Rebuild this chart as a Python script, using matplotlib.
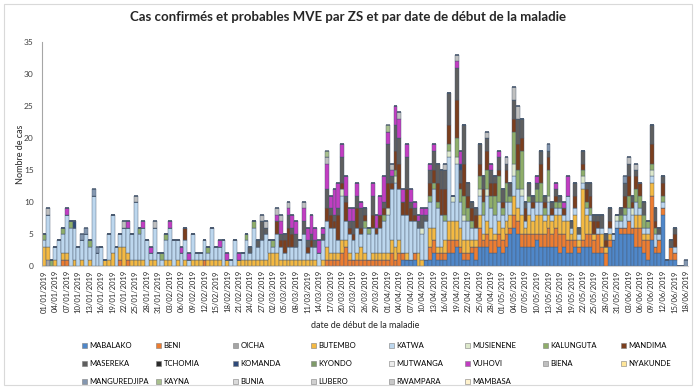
import numpy as np
import pandas as pd
import matplotlib
matplotlib.use('Agg')
import matplotlib.pyplot as plt
from matplotlib.patches import Patch, Rectangle

plt.rcParams['font.family'] = ['Lato', 'DejaVu Sans']

days = pd.date_range('2019-01-01', '2019-06-18', freq='D')
n = len(days)

zones = ['MABALAKO', 'BENI', 'OICHA', 'BUTEMBO', 'KATWA', 'MUSIENENE', 'KALUNGUTA', 'MANDIMA',
         'MASEREKA', 'TCHOMIA', 'KOMANDA', 'KYONDO', 'MUTWANGA', 'VUHOVI', 'BIENA', 'NYAKUNDE',
         'MANGUREDJIPA', 'KAYNA', 'BUNIA', 'LUBERO', 'RWAMPARA', 'MAMBASA']
colors = ['#4f87c9', '#ed7d31', '#a5a5a5', '#f4b942', '#bdd7ee', '#dde8cb', '#8fae6a', '#7b3f1e',
          '#5f5f5f', '#2b2b2b', '#2f4a7a', '#7f9b69', '#ededed', '#c23dc2', '#bfbfbf', '#ffe699',
          '#8497b0', '#a9c08e', '#dadada', '#d0d0d0', '#c8c8c8', '#fff2cc']

# cas par jour (01/01 -> 18/06)
mabalako = [0] * 94 + [
    1, 1, 1, 1, 0, 0,
    1, 1, 2, 1, 1, 1, 2, 2, 3, 2,
    1, 1, 2, 1, 3, 3, 3, 2, 2, 3,
    2, 3, 5, 6, 5, 3, 3, 3, 3, 4,
    3, 3, 3, 3, 3, 2, 3, 2, 2, 3,
    2, 3, 3, 3, 2, 2, 2, 0, 3, 4,
    6, 5, 5, 5, 5, 3, 3, 2, 1, 4,
    2, 2, 8, 1, 1, 1, 0, 0, 0]
beni = [
    0, 0, 0, 0, 0, 1, 1, 0, 0, 0,
    0, 0, 0, 0, 0, 0, 0, 0, 0, 0,
    1, 0, 1, 0, 0, 0, 0, 0, 0, 0,
    0, 0, 0, 0, 0, 0, 0, 0, 0, 0,
    0, 0, 1, 0, 0, 0, 0, 0, 0, 0,
    0, 0, 0, 0, 0, 0, 0, 0, 0, 0,
    0, 0, 0, 0, 0, 0, 0, 0, 0, 0,
    0, 0, 0, 0, 1, 1, 1, 1, 2, 3,
    1, 1, 1, 1, 1, 1, 1, 1, 1, 1,
    1, 2, 1, 2, 1, 0, 0, 1, 0, 0,
    0, 2, 2, 1, 1, 1, 2, 2, 1, 1,
    1, 1, 1, 2, 3, 1, 2, 2, 2, 2,
    2, 2, 1, 2, 2, 2, 2, 2, 2, 1,
    2, 2, 3, 2, 3, 3, 2, 2, 2, 1,
    1, 1, 2, 2, 2, 3, 1, 2, 1, 0,
    0, 1, 1, 2, 1, 3, 3, 2, 3, 7,
    1, 2, 1, 0, 2, 1, 0, 0, 0]
butembo = [
    3, 2, 0, 1, 0, 1, 1, 0, 1, 0,
    1, 0, 1, 0, 0, 0, 1, 1, 2, 0,
    2, 3, 1, 1, 1, 1, 1, 0, 1, 1,
    0, 0, 1, 1, 0, 1, 0, 1, 0, 1,
    1, 1, 0, 1, 1, 1, 1, 0, 1, 0,
    0, 1, 1, 1, 1, 1, 1, 1, 1, 2,
    2, 2, 1, 1, 1, 1, 1, 1, 1, 1,
    1, 1, 0, 1, 2, 1, 1, 1, 2, 1,
    1, 0, 1, 2, 1, 0, 1, 1, 1, 1,
    1, 2, 2, 2, 0, 1, 0, 0, 2, 1,
    0, 3, 2, 1, 1, 2, 3, 3, 3, 3,
    2, 2, 1, 1, 2, 1, 2, 2, 1, 2,
    2, 2, 2, 3, 2, 3, 1, 3, 2, 3,
    3, 2, 2, 2, 2, 3, 2, 3, 1, 4,
    1, 8, 3, 2, 1, 0, 2, 1, 1, 0,
    0, 0, 0, 0, 0, 2, 2, 1, 1, 2,
    0, 0, 0, 0, 0, 0, 0, 0, 0]
katwa = [
    1, 5, 0, 2, 4, 3, 6, 6, 5, 3,
    3, 5, 2, 11, 2, 3, 0, 4, 6, 3,
    2, 3, 4, 4, 9, 4, 5, 4, 1, 5,
    2, 1, 3, 5, 4, 3, 2, 3, 1, 4,
    1, 1, 3, 1, 5, 2, 2, 4, 0, 1,
    4, 0, 1, 3, 1, 5, 2, 3, 4, 2,
    1, 3, 2, 1, 2, 2, 2, 3, 4, 1,
    2, 2, 2, 3, 4, 4, 4, 2, 7, 3,
    3, 3, 4, 2, 4, 4, 4, 3, 4, 5,
    6, 8, 10, 8, 6, 6, 6, 5, 4, 4,
    6, 4, 6, 6, 5, 3, 10, 3, 9, 4,
    3, 3, 2, 2, 3, 3, 4, 3, 3, 3,
    2, 3, 2, 3, 3, 3, 1, 2, 2, 2,
    2, 1, 2, 1, 1, 1, 1, 4, 1, 1,
    1, 1, 1, 1, 0, 1, 1, 0, 1, 1,
    1, 1, 2, 2, 2, 2, 1, 1, 1, 1,
    2, 1, 1, 0, 0, 1, 0, 0, 0]

# zones plus rares : {indice du jour: cas}
oicha = {1: 1}
musienene = {78: 1, 90: 1, 92: 1, 99: 1, 106: 1, 107: 1, 108: 1, 110: 1, 114: 1, 116: 1,
             123: 2, 125: 1, 132: 1, 141: 1, 150: 1, 154: 1, 159: 1}
kalunguta = {0: 1, 2: 1, 5: 1, 7: 1, 12: 1, 25: 1, 31: 1, 32: 1, 43: 1, 53: 1, 55: 1, 60: 1,
             84: 1, 85: 1, 89: 1, 92: 1, 101: 1, 102: 1, 103: 1, 105: 1, 106: 1, 108: 3,
             109: 2, 110: 3, 111: 2, 112: 1, 114: 2, 115: 2, 116: 3, 117: 2, 118: 3, 119: 4,
             120: 1, 121: 3, 122: 1, 123: 5, 124: 3, 125: 6, 127: 1, 129: 2, 130: 3, 131: 1,
             132: 4, 134: 1, 135: 1, 141: 1, 142: 1, 143: 1, 151: 1, 152: 1, 153: 2, 155: 2,
             156: 2, 157: 2, 158: 1, 159: 1, 160: 1, 162: 1}
mandima = {37: 2, 61: 2, 62: 1, 63: 2, 64: 3, 65: 2, 69: 1, 70: 1, 74: 2, 75: 2, 76: 1, 77: 4,
           78: 1, 79: 3, 80: 1, 81: 1, 82: 3, 83: 1, 84: 1, 86: 2, 87: 1, 88: 2, 89: 1, 90: 4,
           91: 1, 92: 3, 93: 4, 94: 2, 95: 4, 96: 2, 97: 1, 101: 2, 102: 2, 103: 3, 104: 4,
           105: 4, 106: 3, 108: 6, 109: 1, 110: 5, 111: 2, 112: 2, 113: 2, 114: 2, 115: 2,
           116: 3, 117: 2, 118: 2, 119: 1, 120: 1, 121: 2, 123: 2, 124: 4, 125: 2, 126: 2,
           128: 1, 130: 3, 131: 1, 132: 2, 133: 1, 134: 1, 136: 1, 139: 2, 141: 1, 142: 2,
           143: 2, 144: 2, 145: 1, 147: 1, 148: 1, 152: 2, 153: 3, 154: 1, 155: 2, 156: 2,
           159: 3, 160: 1, 162: 2, 165: 2}
masereka = {54: 1, 56: 1, 57: 3, 58: 1, 62: 1, 63: 1, 64: 2, 65: 1, 66: 2, 68: 2, 69: 1, 70: 1,
            71: 1, 73: 1, 74: 3, 75: 1, 76: 1, 77: 1, 78: 4, 79: 1, 80: 1, 81: 2, 82: 2, 83: 3,
            84: 1, 86: 3, 89: 1, 90: 6, 91: 1, 92: 4, 93: 4, 95: 5, 96: 1, 97: 1, 98: 1, 99: 2,
            100: 1, 101: 2, 102: 3, 103: 3, 104: 3, 105: 3, 106: 5, 108: 5, 109: 2, 110: 6,
            111: 2, 112: 1, 113: 1, 114: 3, 115: 2, 116: 2, 117: 2, 118: 1, 119: 2, 120: 2,
            121: 1, 122: 2, 123: 3, 124: 4, 125: 3, 126: 1, 127: 2, 128: 1, 129: 1, 130: 2,
            131: 1, 132: 1, 133: 1, 134: 1, 135: 1, 138: 1, 139: 2, 140: 1, 141: 2, 142: 1,
            143: 2, 144: 1, 145: 1, 146: 2, 147: 1, 148: 2, 151: 1, 152: 2, 153: 2, 154: 1,
            155: 1, 157: 2, 159: 3, 160: 2, 161: 1, 162: 1, 164: 1, 165: 1}
tchomia = {}
komanda = {8: 1, 109: 1}
kyondo = {}
mutwanga = {}
vuhovi = {6: 1, 22: 1, 26: 1, 28: 1, 33: 1, 36: 1, 38: 1, 46: 1, 48: 1, 51: 1, 61: 1, 62: 2,
          64: 1, 65: 2, 66: 2, 68: 2, 69: 2, 70: 3, 71: 2, 72: 2, 73: 1, 74: 4, 75: 2, 76: 4,
          77: 4, 78: 2, 79: 3, 80: 2, 81: 2, 82: 2, 83: 1, 86: 2, 87: 2, 88: 3, 89: 4, 90: 2,
          91: 1, 92: 3, 93: 3, 94: 2, 95: 2, 96: 2, 97: 1, 98: 1, 99: 1, 100: 1, 101: 1,
          102: 1, 108: 1, 109: 2, 117: 1, 119: 1, 129: 1, 134: 1, 136: 1, 137: 3}
biena = {1: 1, 21: 1, 24: 1, 29: 1, 57: 1, 58: 1, 61: 1, 62: 1, 64: 1, 68: 1, 74: 1, 91: 1,
         93: 1, 105: 1, 108: 1, 116: 1, 121: 1, 123: 2, 124: 2, 153: 1, 155: 1}
nyakunde = {}
manguredjipa = {10: 1, 11: 1, 13: 1, 14: 1, 132: 1, 152: 1, 168: 1}
kayna = {74: 1, 90: 1}
bunia = {}
lubero = {}
rwampara = {}
mambasa = {}


def serie(v):
    if isinstance(v, dict):
        out = np.zeros(n)
        for k, c in v.items():
            out[k] = c
        return out
    return np.array(v, dtype=float)


series = [mabalako, beni, oicha, butembo, katwa, musienene, kalunguta, mandima,
          masereka, tchomia, komanda, kyondo, mutwanga, vuhovi, biena, nyakunde,
          manguredjipa, kayna, bunia, lubero, rwampara, mambasa]

fig = plt.figure(figsize=(6.96, 3.89), dpi=100)
fig.patches.append(Rectangle((4 / 696, 4 / 389), 688 / 696, 381 / 389, transform=fig.transFigure,
                             fill=False, edgecolor='#d9d9d9', linewidth=0.8))
ax = fig.add_axes([42 / 696, 1 - 266 / 389, 646 / 696, 224 / 389])

x = np.arange(n)
bottom = np.zeros(n)
for name, v, c in zip(zones, series, colors):
    vals = serie(v)
    ax.bar(x, vals, width=1.0, bottom=bottom, color=c, edgecolor='#4a5a70', linewidth=0.3)
    bottom += vals

ax.set_xlim(-0.5, n - 0.5)
ax.set_ylim(0, 35)
ax.set_yticks(range(0, 36, 5))
ax.tick_params(axis='y', labelsize=6, length=0, pad=6, colors='#404040')
ax.set_xticks(x[::3])
ax.set_xticklabels([d.strftime('%d/%m/%Y') for d in days[::3]], rotation=90, fontsize=5.5)
ax.tick_params(axis='x', length=0, pad=3, colors='#262626')
for s in ['top', 'right']:
    ax.spines[s].set_visible(False)
ax.spines['left'].set_color('#a6a6a6')
ax.spines['bottom'].set_color('#d0d0d0')
ax.set_ylabel('Nombre de cas', fontsize=6.5, color='#262626')
ax.yaxis.set_label_coords(-17 / 646, 0.5)

fig.text(0.5, 1 - 17 / 389, 'Cas confirmés et probables MVE par ZS et par date de début de la maladie',
         ha='center', va='center', fontsize=9.5, fontweight='bold', color='#262626')
fig.text(365 / 696, 1 - 325 / 389, 'date de début de la maladie', ha='center', va='center',
         fontsize=6.5, color='#262626')

col_x = [82, 156, 233, 311, 389, 465, 543, 621]
for j, cx in enumerate(col_x):
    idx = [i for i in (j, j + 8, j + 16) if i < len(zones)]
    handles = [Patch(facecolor=colors[i], edgecolor='#7f7f7f', linewidth=0.4) for i in idx]
    fig.legend(handles, [zones[i] for i in idx], loc='upper left',
               bbox_to_anchor=(cx / 696, 1 - 342 / 389), frameon=False, fontsize=5.5,
               handlelength=0.7, handleheight=0.7, handletextpad=0.3, labelspacing=1.45,
               borderpad=0, borderaxespad=0)

fig.savefig('out.png', dpi=100)
